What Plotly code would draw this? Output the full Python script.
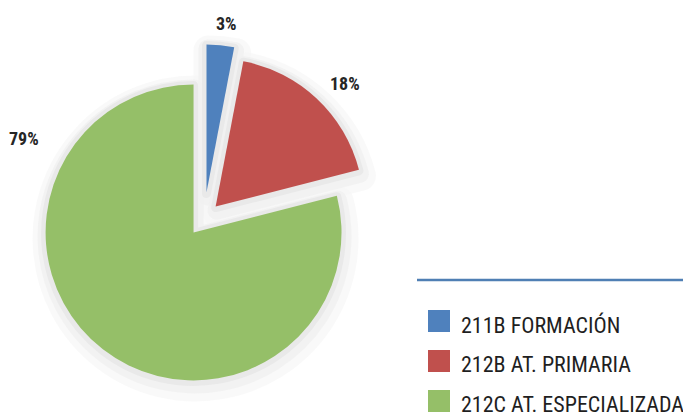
import plotly.graph_objects as go

# Budget programme shares
labels = ["211B FORMACIÓN", "212B AT. PRIMARIA", "212C AT. ESPECIALIZADA"]
values = [3, 18, 79]
colors = ["#4f81bd", "#c0504d", "#95bf68"]
pulls = [0.18, 0.115, 0.115]

W, H = 683, 412
FONT = "Liberation Sans Narrow, Arial Narrow, Roboto Condensed, DejaVu Sans Condensed, sans-serif"

DX0, DX1, DY0, DY1 = 0.0430, 0.5543, 0.0447, 0.8922


def pie(colors_, line_color, line_width, name, dx=0, dy=0):
    dom = dict(x=[DX0 + dx / W, DX1 + dx / W], y=[DY0 - dy / H, DY1 - dy / H])
    return go.Pie(
        labels=labels, values=values, sort=False, direction="clockwise",
        rotation=0, pull=pulls, domain=dom, textinfo="none",
        marker=dict(colors=colors_, line=dict(color=line_color, width=line_width)),
        showlegend=False, hoverinfo="label+percent", name=name,
    )


fig = go.Figure()
# soft drop shadow built from wide, faint outlines under the slices
fig.add_trace(pie(["#fafafa"] * 3, "rgba(246,246,246,0.7)", 30, "halo2", dx=2, dy=6))
fig.add_trace(pie(["#f3f3f3"] * 3, "rgba(240,240,240,0.8)", 18, "halo1", dx=1, dy=4))
fig.add_trace(pie(["#e9e9e9"] * 3, "#e9e9e9", 9, "shadow", dy=1))
fig.add_trace(pie(colors, "rgba(0,0,0,0)", 0, "share"))

# percentage labels
label_pos = [(226, 24), (345, 83), (24, 139)]
total = sum(values)
annotations = []
for v, (px, py) in zip(values, label_pos):
    annotations.append(dict(
        x=px / W, y=1 - py / H, xref="paper", yref="paper",
        text=f"<b>{round(100 * v / total)}%</b>", showarrow=False,
        xanchor="center", yanchor="middle",
        font=dict(family=FONT, size=18, color="#262626"),
    ))

# legend: coloured squares with programme names, under a rule
shapes = [dict(type="line", xref="paper", yref="paper",
               x0=417 / W, x1=1, y0=1 - 280 / H, y1=1 - 280 / H,
               line=dict(color="#4f7fb4", width=2.5))]
for i, (lab, col) in enumerate(zip(labels, colors)):
    top = 310 + 40 * i
    shapes.append(dict(type="rect", xref="paper", yref="paper",
                       x0=428 / W, x1=450 / W, y0=1 - (top + 22) / H, y1=1 - top / H,
                       fillcolor=col, line=dict(width=0)))
    annotations.append(dict(
        x=459 / W, y=1 - (top + 14.5) / H, xref="paper", yref="paper",
        text=lab, showarrow=False, xanchor="left", yanchor="middle",
        font=dict(family=FONT, size=22, color="#1f1f1f"),
    ))

fig.update_layout(
    width=W, height=H, margin=dict(l=0, r=0, t=0, b=0),
    paper_bgcolor="white", plot_bgcolor="white",
    shapes=shapes, annotations=annotations, showlegend=False,
)
fig.write_html("out.html")
